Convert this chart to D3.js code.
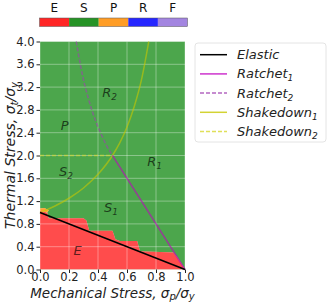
<!DOCTYPE html>
<html>
<head>
<meta charset="utf-8">
<script src="https://cdn.jsdelivr.net/npm/d3@7"></script>
<style>
  body { margin: 0; background: #fff; }
  text { font-family: "DejaVu Sans", sans-serif; }
</style>
</head>
<body>
<svg id="chart" width="327" height="302"></svg>
<script>
// colour bar categories
const regionKeys = ['E', 'S', 'P', 'R', 'F'];
const regionColors = ['#ff0000', '#008000', '#ff8c00', '#0000ff', '#9370db'];

// ticks
const xTicks = [0.0, 0.2, 0.4, 0.6, 0.8, 1.0];
const yTicks = [0.0, 0.4, 0.8, 1.2, 1.6, 2.0, 2.4, 2.8, 3.2, 3.6, 4.0];

// elastic (red) region, [sigma_p, sigma_t]
const elasticRegion = [[0, 0], [0, 1.03], [0.05, 1.0], [0.06, 0.9], [0.3, 0.9], [0.32, 0.86],
  [0.34, 0.68], [0.5, 0.68], [0.52, 0.53], [0.55, 0.5], [0.67, 0.5], [0.69, 0.32],
  [0.92, 0.3], [0.95, 0.2], [1, 0]];
const plasticSliver = [[0, 1.03], [0, 1.07], [0.03, 1.08], [0.06, 1.04], [0.05, 1.0]];

// boundary curves
const elasticLine = [[0, 1], [1, 0]];
const ratchet1 = [[0.5, 2], [1, 0]];
const ratchet2 = [[0.25, 4], [0.28, 3.57], [0.3, 3.33], [0.33, 3.03], [0.36, 2.78], [0.4, 2.5],
  [0.43, 2.33], [0.46, 2.17], [0.5, 2]];
const shakedown1 = [[0, 1], [0.1, 1.11], [0.2, 1.25], [0.3, 1.43], [0.4, 1.67], [0.5, 2],
  [0.55, 2.22], [0.6, 2.5], [0.65, 2.86], [0.7, 3.33], [0.75, 4]];
const shakedown2 = [[0, 2], [0.5, 2]];

const legendItems = [
  { name: 'Elastic', sub: '', color: '#000000', dash: null, data: elasticLine },
  { name: 'Ratchet', sub: '1', color: '#c000c0', dash: null, data: ratchet1 },
  { name: 'Ratchet', sub: '2', color: '#a040b0', dash: '4,2', data: ratchet2 },
  { name: 'Shakedown', sub: '1', color: '#c8c800', dash: null, data: shakedown1 },
  { name: 'Shakedown', sub: '2', color: '#d8d830', dash: '4,2', data: shakedown2 },
];

const regionLabels = [
  { name: 'R', sub: '2', x: 0.48, y: 3.12 },
  { name: 'P', sub: '', x: 0.17, y: 2.53 },
  { name: 'R', sub: '1', x: 0.79, y: 1.91 },
  { name: 'S', sub: '2', x: 0.18, y: 1.72 },
  { name: 'S', sub: '1', x: 0.49, y: 1.1 },
  { name: 'E', sub: '', x: 0.26, y: 0.34 },
];

const svg = d3.select('#chart');
const margin = { top: 41.5, right: 142, bottom: 32.5, left: 40 };
const width = 327 - margin.left - margin.right;
const height = 302 - margin.top - margin.bottom;

const x = d3.scaleLinear().domain([0, 1]).range([0, width]);
const y = d3.scaleLinear().domain([0, 4]).range([height, 0]);

const chart = svg.append('g').attr('transform', `translate(${margin.left},${margin.top})`);

// background map
chart.append('rect')
  .attr('width', width).attr('height', height)
  .attr('fill', regionColors[1]).attr('fill-opacity', 0.7);

const area = d3.line().x((d) => x(d[0])).y((d) => y(d[1]));
// white under the red so alpha matches the image
chart.append('path').attr('d', area(elasticRegion) + 'Z').attr('fill', '#fff');
chart.append('path').attr('d', area(elasticRegion) + 'Z')
  .attr('fill', regionColors[0]).attr('fill-opacity', 0.7);
chart.append('path').attr('d', area(plasticSliver) + 'Z').attr('fill', '#fff');
chart.append('path').attr('d', area(plasticSliver) + 'Z')
  .attr('fill', regionColors[2]).attr('fill-opacity', 0.8);

// grid
chart.append('g').selectAll('line').data(xTicks).join('line')
  .attr('x1', (d) => x(d)).attr('x2', (d) => x(d))
  .attr('y1', 0).attr('y2', height)
  .attr('stroke', '#fff').attr('stroke-opacity', 0.45).attr('stroke-width', 0.8);
chart.append('g').selectAll('line').data(yTicks).join('line')
  .attr('y1', (d) => y(d)).attr('y2', (d) => y(d))
  .attr('x1', 0).attr('x2', width)
  .attr('stroke', '#fff').attr('stroke-opacity', 0.45).attr('stroke-width', 0.8);

// curves
const line = d3.line().x((d) => x(d[0])).y((d) => y(d[1])).curve(d3.curveMonotoneX);
chart.selectAll('.curve').data(legendItems.slice().reverse()).join('path')
  .attr('class', 'curve')
  .attr('d', (d) => line(d.data))
  .attr('fill', 'none')
  .attr('stroke', (d) => d.color)
  .attr('stroke-opacity', (d) => (d.color === '#000000' ? 1 : 0.6))
  .attr('stroke-width', 1.5)
  .attr('stroke-dasharray', (d) => d.dash);

// region labels
const rl = chart.selectAll('.rlab').data(regionLabels).join('text')
  .attr('class', 'rlab')
  .attr('x', (d) => x(d.x)).attr('y', (d) => y(d.y) + 5)
  .attr('text-anchor', 'middle')
  .attr('font-size', 13).attr('font-style', 'italic')
  .attr('fill', '#000').attr('fill-opacity', 0.65);
rl.append('tspan').text((d) => d.name);
rl.append('tspan').attr('font-size', 9).attr('dy', 3).text((d) => d.sub);

// axes
const xAxis = chart.append('g').attr('transform', `translate(0,${height})`)
  .call(d3.axisBottom(x).tickValues(xTicks).tickFormat(d3.format('.1f')).tickSize(3.5).tickPadding(0));
const yAxis = chart.append('g')
  .call(d3.axisLeft(y).tickValues(yTicks).tickFormat(d3.format('.1f')).tickSize(3.5).tickPadding(2));
[xAxis, yAxis].forEach((a) => {
  a.select('.domain').remove();
  a.selectAll('text').attr('font-size', 11.5).attr('fill', '#222').attr('font-family', 'DejaVu Sans');
  a.selectAll('line').attr('stroke', '#222');
});

// axis titles
const xt = svg.append('text')
  .attr('x', margin.left + width / 2).attr('y', 297.5)
  .attr('text-anchor', 'middle').attr('font-size', 13.5).attr('font-style', 'italic').attr('fill', '#222');
xt.append('tspan').text('Mechanical Stress, σ');
xt.append('tspan').attr('font-size', 10).attr('dy', 2.5).text('p');
xt.append('tspan').attr('dy', -2.5).text('/σ');
xt.append('tspan').attr('font-size', 10).attr('dy', 2.5).text('y');

const yt = svg.append('text')
  .attr('transform', `translate(15,${margin.top + height / 2}) rotate(-90)`)
  .attr('text-anchor', 'middle').attr('font-size', 14).attr('font-style', 'italic').attr('fill', '#222');
yt.append('tspan').text('Thermal Stress, σ');
yt.append('tspan').attr('font-size', 10).attr('dy', 3).text('t');
yt.append('tspan').attr('dy', -3).text('/σ');
yt.append('tspan').attr('font-size', 10).attr('dy', 3).text('y');

// colour bar on top
const cb = d3.scaleBand().domain(regionKeys).range([39.5, 187.5]);
svg.selectAll('.cbar').data(regionKeys).join('rect')
  .attr('class', 'cbar')
  .attr('x', (d) => cb(d)).attr('y', 18)
  .attr('width', cb.bandwidth()).attr('height', 8.5)
  .attr('fill', (d, i) => regionColors[i]).attr('fill-opacity', 0.85);
svg.append('rect').attr('x', 39.5).attr('y', 18).attr('width', 148).attr('height', 8.5)
  .attr('fill', 'none').attr('stroke', '#555').attr('stroke-width', 0.5);
svg.selectAll('.cblab').data(regionKeys).join('text')
  .attr('class', 'cblab')
  .attr('x', (d) => cb(d) + cb.bandwidth() / 2).attr('y', 12)
  .attr('text-anchor', 'middle').attr('font-size', 12).attr('fill', '#111')
  .text((d) => d);

// legend
const lg = svg.append('g').attr('transform', 'translate(195,43)');
lg.append('rect').attr('width', 131).attr('height', 99).attr('rx', 3)
  .attr('fill', '#fff').attr('stroke', '#ddd').attr('stroke-width', 0.8);
const li = lg.selectAll('.li').data(legendItems).join('g')
  .attr('class', 'li')
  .attr('transform', (d, i) => `translate(0,${11.7 + i * 19.2})`);
li.append('line').attr('x1', 5).attr('x2', 32)
  .attr('stroke', (d) => d.color).attr('stroke-width', 1.5)
  .attr('stroke-opacity', (d) => (d.color === '#000000' ? 1 : 0.8))
  .attr('stroke-dasharray', (d) => d.dash);
const lt = li.append('text').attr('x', 42).attr('y', 4.5)
  .attr('font-size', 13).attr('font-style', 'italic').attr('fill', '#222');
lt.append('tspan').text((d) => d.name);
lt.append('tspan').attr('font-size', 9).attr('dy', 3).text((d) => d.sub);
</script>
</body>
</html>
